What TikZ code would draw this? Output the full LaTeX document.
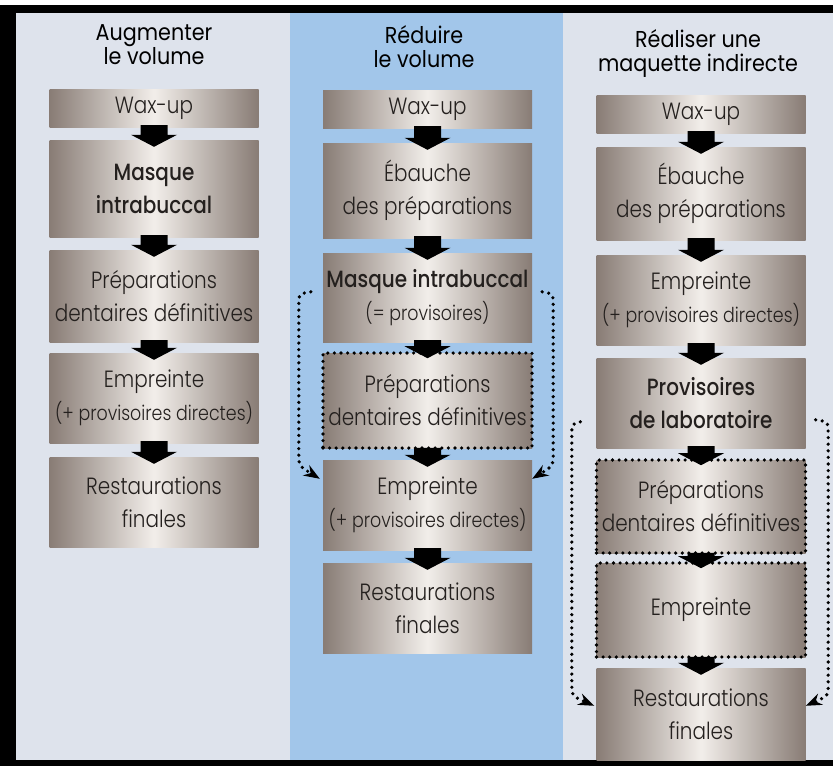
\documentclass[tikz,border=0pt]{standalone}
\usepackage{fontspec}
\setmainfont{Poppins}[FakeStretch=0.9]
\newfontfamily\lightfont{Poppins Light}[FakeStretch=0.85]
\newfontfamily\medfont{Poppins Medium}[FakeStretch=0.85]
\usetikzlibrary{calc,arrows.meta,positioning}

\definecolor{pagebg}{RGB}{222,227,236}
\definecolor{bandeau}{RGB}{162,198,234}
\definecolor{metaledge}{RGB}{136,124,117}
\definecolor{metalmid}{RGB}{242,238,234}
\definecolor{inktext}{RGB}{36,32,30}

\tikzset{
	etape/.style={minimum width=209pt, minimum height=92pt, inner sep=0pt, align=center,
		left color=metaledge, right color=metaledge, middle color=metalmid,
		text=inktext, font=\lightfont\fontsize{23.5}{33}\selectfont},
	titre/.style={align=center, text=black, font=\fontsize{23}{24}\selectfont},
	pointille/.style={line width=3.6pt, dash pattern=on 0pt off 6.6pt, line cap=round},
	cadre/.style={draw=black, pointille},
	boucle/.style={pointille, -{Stealth[length=16pt,width=12pt]}}
}

% block arrow from one step to the next
\newcommand{\flechebloc}[2]{%
	\fill[black] ($(#1.south)+(-13.5,-2)$) -- ($(#2.north)+(-13.5,-5)$) -- ($(#2.north)+(-23,-5)$)
	-- ($(#2.north)+(0,7)$) -- ($(#2.north)+(23,-5)$) -- ($(#2.north)+(13.5,-5)$)
	-- ($(#1.south)+(13.5,-2)$) -- cycle;}
\newcommand{\petit}[1]{{\fontsize{20.5}{33}\selectfont #1}}

\begin{document}
\begin{tikzpicture}[x=1pt, y=-1pt]
	\useasboundingbox (0,0) rectangle (833,766);
	% background
	\fill[white] (0,0) rectangle (833,766);
	\fill[pagebg] (16,13) rectangle (833,760);
	\fill[bandeau] (290,13) rectangle (563,760);
	\fill[black] (0,5) rectangle (833,13);
	\fill[black] (0,5) rectangle (16,766);
	\fill[black] (0,760) rectangle (833,766);

	% titles
	\node[titre] (tL) at (154,45) {Augmenter\\le volume};
	\node[titre] (tM) at (424,47) {Réduire\\le volume};
	\node[titre] (tR) at (698,53) {Réaliser une\\maquette indirecte};

	% left column
	\node[etape, minimum height=38pt] (L1) at (154,108) {Wax-up};
	\node[etape, minimum height=97pt] (L2) at (154,188.5) {\medfont Masque\\\medfont intrabuccal};
	\node[etape] (L3) at (154,296) {Préparations\\dentaires définitives};
	\node[etape, minimum height=90pt] (L4) at (154,398) {Empreinte\\\petit{(+ provisoires directes)}};
	\node[etape, minimum height=90pt] (L5) at (154,502) {Restaurations\\finales};

	% middle column
	\node[etape, minimum height=38pt] (M1) at (427.5,109) {Wax-up};
	\node[etape, minimum height=95pt] (M2) at (427.5,190.5) {Ébauche\\des préparations};
	\node[etape, minimum height=89pt] (M3) at (427.5,297.5) {{\medfont Masque intrabuccal}\\\petit{(= provisoires)}};
	\node[etape, cadre, minimum height=95pt] (M4) at (427.5,400.5) {Préparations\\dentaires définitives};
	\node[etape, minimum height=90pt] (M5) at (427.5,505) {Empreinte\\\petit{(+ provisoires directes)}};
	\node[etape, minimum height=90pt] (M6) at (427.5,608) {Restaurations\\finales};

	% right column
	\node[etape, minimum height=38pt] (R1) at (701,114) {Wax-up};
	\node[etape, minimum height=93pt] (R2) at (701,193.5) {Ébauche\\des préparations};
	\node[etape, minimum height=90pt] (R3) at (701,300) {Empreinte\\\petit{(+ provisoires directes)}};
	\node[etape, minimum height=90pt] (R4) at (701,403) {\medfont Provisoires\\\medfont de laboratoire};
	\node[etape, cadre, minimum height=93pt] (R5) at (701,506.5) {Préparations\\dentaires définitives};
	\node[etape, cadre, minimum height=94pt] (R6) at (701,610) {Empreinte};
	\node[etape, minimum height=92pt] (R7) at (701,714) {Restaurations\\finales};

	% arrows
	\flechebloc{L1}{L2} \flechebloc{L2}{L3} \flechebloc{L3}{L4} \flechebloc{L4}{L5}
	\flechebloc{M1}{M2} \flechebloc{M2}{M3} \flechebloc{M3}{M4} \flechebloc{M4}{M5} \flechebloc{M5}{M6}
	\flechebloc{R1}{R2} \flechebloc{R2}{R3} \flechebloc{R3}{R4} \flechebloc{R4}{R5} \flechebloc{R5}{R6} \flechebloc{R6}{R7}

	% dotted bypass loops
	\draw[boucle] ($(M3.north west)+(-12,39)$) .. controls ($(M3.north west)+(-24,41)$) .. ($(M3.north west)+(-24,53)$)
		-- ($(M5.north west)+(-24,-5)$) .. controls ($(M5.north west)+(-24,6)$) .. ($(M5.north west)+(-3,19)$);
	\draw[boucle] ($(M3.north east)+(10,39)$) .. controls ($(M3.north east)+(21,41)$) .. ($(M3.north east)+(21,53)$)
		-- ($(M5.north east)+(21,-5)$) .. controls ($(M5.north east)+(21,6)$) .. ($(M5.north east)+(0,19)$);
	\draw[boucle] ($(R4.north west)+(-16,64)$) .. controls ($(R4.north west)+(-24.5,66)$) .. ($(R4.north west)+(-24.5,78)$)
		-- ($(R7.north west)+(-24.5,18)$) .. controls ($(R7.north west)+(-24.5,28)$) .. ($(R7.north west)+(-2,38)$);
	\draw[boucle] ($(R4.north east)+(10,62)$) .. controls ($(R4.north east)+(22.5,64)$) .. ($(R4.north east)+(22.5,76)$)
		-- ($(R7.north east)+(22.5,18)$) .. controls ($(R7.north east)+(22.5,28)$) .. ($(R7.north east)+(0,38)$);
\end{tikzpicture}
\end{document}
